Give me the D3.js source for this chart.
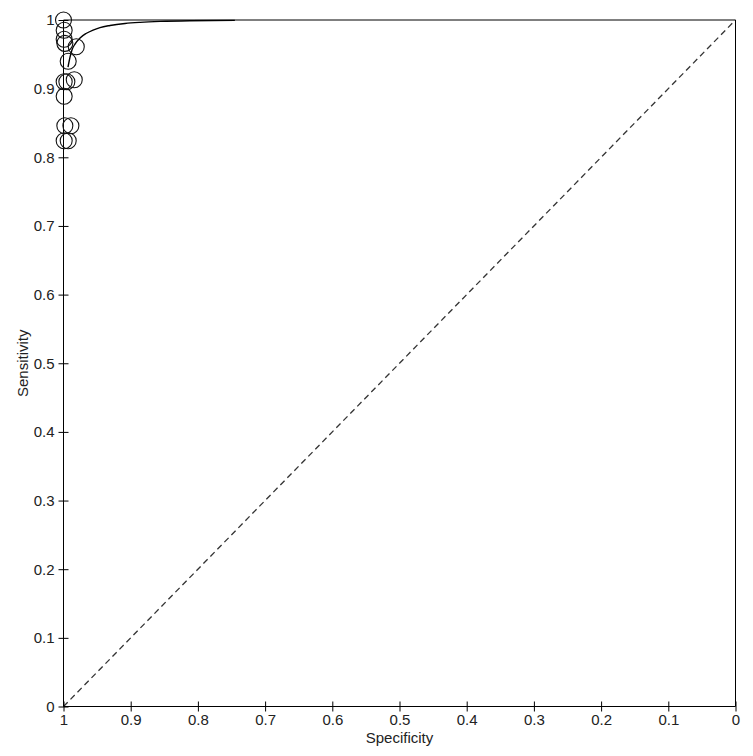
<!DOCTYPE html>
<html>
<head>
<meta charset="utf-8">
<script src="https://cdn.jsdelivr.net/npm/d3@7"></script>
<style>
  html, body { margin: 0; padding: 0; background: #fff; }
  svg { display: block; }
  text { font-family: "Liberation Sans", Arial, sans-serif; fill: #222; }
</style>
</head>
<body>
<svg id="chart" width="753" height="756"></svg>
<script>
// ---- data ----
const xTicks = [1, 0.9, 0.8, 0.7, 0.6, 0.5, 0.4, 0.3, 0.2, 0.1, 0];
const yTicks = [0, 0.1, 0.2, 0.3, 0.4, 0.5, 0.6, 0.7, 0.8, 0.9, 1];
const xTickLabels = ["1", "0.9", "0.8", "0.7", "0.6", "0.5", "0.4", "0.3", "0.2", "0.1", "0"];
const yTickLabels = ["0", "0.1", "0.2", "0.3", "0.4", "0.5", "0.6", "0.7", "0.8", "0.9", "1"];

// individual studies
const studySpecificity = [1.000, 0.999, 0.999, 0.998, 0.981, 0.993, 0.999, 0.995, 0.984, 0.999, 0.998, 0.989, 0.999, 0.993];
const studySensitivity = [1.000, 0.985, 0.972, 0.966, 0.961, 0.940, 0.910, 0.910, 0.913, 0.889, 0.846, 0.846, 0.824, 0.824];

// summary ROC curve
const curveSpecificity = [0.9933, 0.9903, 0.9874, 0.9829, 0.9754, 0.9665, 0.956, 0.9457, 0.9308, 0.9085, 0.886, 0.856, 0.812, 0.745];
const curveSensitivity = [0.9315, 0.946, 0.9563, 0.965, 0.9738, 0.9803, 0.9854, 0.989, 0.992, 0.9949, 0.9966, 0.998, 0.999, 0.9995];

// chance line
const diagSpecificity = [1, 0];
const diagSensitivity = [0, 1];

// ---- drawing ----
const svg = d3.select("#chart");
const x = d3.scaleLinear().domain([1, 0]).range([63.5, 735.5]);
const y = d3.scaleLinear().domain([0, 1]).range([706.5, 20]);

// diagonal dashed line
svg.append("path")
  .datum(diagSpecificity.map((s, i) => [s, diagSensitivity[i]]))
  .attr("d", d3.line().x(d => x(d[0])).y(d => y(d[1])))
  .attr("fill", "none")
  .attr("stroke", "#333")
  .attr("stroke-width", 1.3)
  .attr("stroke-dasharray", "6,4");

// frame (top and right)
svg.append("line").attr("x1", x(1)).attr("x2", x(0)).attr("y1", y(1)).attr("y2", y(1))
  .attr("stroke", "#000").attr("stroke-width", 1);
svg.append("line").attr("x1", x(0)).attr("x2", x(0)).attr("y1", y(1)).attr("y2", y(0))
  .attr("stroke", "#000").attr("stroke-width", 1);

// x axis
const xAxis = svg.append("g")
  .attr("transform", `translate(0,${y(0)})`)
  .call(d3.axisBottom(x).tickValues(xTicks).tickFormat((d, i) => xTickLabels[i]).tickSize(5).tickPadding(3));
xAxis.select(".domain").attr("d", `M${x(1)},0H${x(0)}`).attr("stroke", "#000");
xAxis.selectAll(".tick line").attr("y1", -5).attr("y2", 5).attr("stroke", "#000");
xAxis.selectAll("text").attr("font-size", 15).attr("font-family", "Liberation Sans, Arial, sans-serif").attr("fill", "#222");

// y axis
const yAxis = svg.append("g")
  .attr("transform", `translate(${x(1)},0)`)
  .call(d3.axisLeft(y).tickValues(yTicks).tickFormat((d, i) => yTickLabels[i]).tickSize(5).tickPadding(4));
yAxis.select(".domain").attr("d", `M0,${y(0)}V${y(1)}`).attr("stroke", "#000");
yAxis.selectAll(".tick line").attr("x1", -5).attr("x2", 5).attr("stroke", "#000");
yAxis.selectAll("text").attr("font-size", 15).attr("font-family", "Liberation Sans, Arial, sans-serif").attr("fill", "#222");

// SROC curve
svg.append("path")
  .datum(curveSpecificity.map((s, i) => [s, curveSensitivity[i]]))
  .attr("d", d3.line().curve(d3.curveMonotoneX).x(d => x(d[0])).y(d => y(d[1])))
  .attr("fill", "none")
  .attr("stroke", "#000")
  .attr("stroke-width", 1.4);

// study circles
svg.append("g").selectAll("circle")
  .data(studySpecificity.map((s, i) => [s, studySensitivity[i]]))
  .join("circle")
  .attr("cx", d => x(d[0]))
  .attr("cy", d => y(d[1]))
  .attr("r", 8)
  .attr("fill", "none")
  .attr("stroke", "#111")
  .attr("stroke-width", 1.1);

// axis titles
svg.append("text")
  .attr("x", (x(1) + x(0)) / 2)
  .attr("y", 743)
  .attr("text-anchor", "middle")
  .attr("font-size", 15)
  .text("Specificity");

svg.append("text")
  .attr("transform", `translate(28,${(y(0) + y(1)) / 2}) rotate(-90)`)
  .attr("text-anchor", "middle")
  .attr("font-size", 15)
  .text("Sensitivity");
</script>
</body>
</html>
